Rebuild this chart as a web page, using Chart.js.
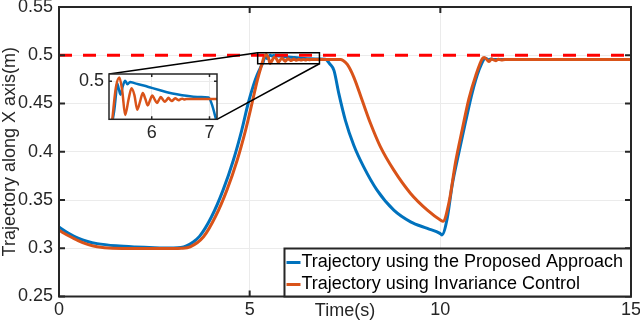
<!DOCTYPE html>
<html>
<head>
<meta charset="utf-8">
<script src="https://cdn.jsdelivr.net/npm/chart.js@4/dist/chart.umd.min.js"></script>
<style>
  html, body { margin: 0; padding: 0; background: #fff; }
  #wrap { position: relative; width: 640px; height: 323px; }
  #main { position: absolute; left: 0; top: 0; }
  #inset { position: absolute; left: 72px; top: 64px; }
</style>
</head>
<body>
<div id="wrap">
  <canvas id="main" width="640" height="323"></canvas>
  <canvas id="inset" width="155" height="86"></canvas>
</div>
<script>
// values (time in s, position in m)
const timeProposed = [0, 0.25, 0.5, 0.75, 1, 1.5, 2, 2.5, 3, 3.2, 3.34, 3.5, 3.69, 4, 4.3, 4.57, 4.79, 4.96, 5.1, 5.2, 5.3, 5.35, 5.38, 5.4, 5.43, 5.46, 5.5, 5.54, 5.58, 5.625, 5.7, 5.86, 6.0, 6.145, 6.3, 6.435, 6.6, 6.72, 6.85, 6.985, 7.04, 7.1, 7.21, 7.34, 7.51, 7.73, 7.99, 8.34, 8.78, 9.22, 9.66, 9.99, 10.04, 10.18, 10.31, 10.49, 10.66, 10.84, 11.01, 11.19, 11.26, 11.33, 11.4, 11.6, 15];
const valProposed = [0.322, 0.3155, 0.3105, 0.307, 0.3048, 0.3025, 0.3013, 0.3006, 0.3003, 0.3008, 0.3025, 0.306, 0.3125, 0.3326, 0.36, 0.391, 0.422, 0.45, 0.469, 0.48, 0.4885, 0.4925, 0.4965, 0.4995, 0.498, 0.4966, 0.4988, 0.5001, 0.4992, 0.4998, 0.4995, 0.4989, 0.4983, 0.4977, 0.4971, 0.4967, 0.4963, 0.4961, 0.496, 0.4959, 0.4942, 0.4911, 0.4843, 0.46, 0.4326, 0.4067, 0.3843, 0.3602, 0.3395, 0.3274, 0.3205, 0.3154, 0.3138, 0.3309, 0.3653, 0.3998, 0.4308, 0.4619, 0.4843, 0.497, 0.4952, 0.4962, 0.4957, 0.4957, 0.4957];

const timeInvariance = [0, 0.25, 0.5, 0.75, 1, 1.4, 2, 3, 3.2, 3.44, 3.79, 4.1, 4.4, 4.67, 4.89, 5.06, 5.2, 5.32, 5.38, 5.44, 5.49, 5.54, 5.6, 5.65, 5.7, 5.75, 5.8, 5.845, 5.89, 5.93, 5.97, 6.01, 6.05, 6.09, 6.125, 6.157, 6.19, 6.227, 6.26, 6.29, 6.32, 6.35, 6.38, 6.41, 6.44, 6.47, 6.5, 6.53, 6.56, 6.6, 7.0, 7.38, 7.45, 7.56, 7.73, 7.95, 8.17, 8.43, 8.78, 9.22, 9.66, 10.01, 10.07, 10.23, 10.4, 10.58, 10.75, 10.93, 11.1, 11.15, 11.22, 11.28, 11.34, 11.4, 11.46, 11.52, 11.6, 11.7, 15];
const valInvariance = [0.3185, 0.313, 0.308, 0.304, 0.3015, 0.3, 0.2998, 0.2998, 0.3, 0.3015, 0.3119, 0.3326, 0.36, 0.391, 0.422, 0.45, 0.474, 0.4908, 0.4985, 0.5009, 0.4975, 0.4915, 0.4955, 0.4982, 0.4965, 0.4928, 0.495, 0.497, 0.4955, 0.4939, 0.4952, 0.4964, 0.4954, 0.4945, 0.4953, 0.496, 0.4954, 0.4948, 0.4953, 0.4958, 0.4953, 0.495, 0.4954, 0.4957, 0.4954, 0.4952, 0.4955, 0.4956, 0.4954, 0.4955, 0.4955, 0.4955, 0.4945, 0.4905, 0.4774, 0.4533, 0.4292, 0.405, 0.3809, 0.3568, 0.3395, 0.3291, 0.328, 0.348, 0.3894, 0.424, 0.455, 0.4791, 0.4964, 0.4976, 0.4955, 0.4935, 0.4962, 0.4952, 0.4944, 0.4958, 0.495, 0.4956, 0.4955];

const refTime = [0, 15];
const refValue = [0.5, 0.5];

const xTicks = [0, 5, 10, 15];
const xTickLabels = ['0', '5', '10', '15'];
const yTicks = [0.25, 0.3, 0.35, 0.4, 0.45, 0.5, 0.55];
const yTickLabels = ['0.25', '0.3', '0.35', '0.4', '0.45', '0.5', '0.55'];

// zoomed region
const zoomTime = [5.21, 6.83];
const zoomValue = [0.4912, 0.5026];
const insetTime = [5.26, 7.13];
const insetValue = [0.4904, 0.5018];
const insetXTicks = [6, 7];
const insetXTickLabels = ['6', '7'];
const insetYTicks = [0.5];
const insetYTickLabels = ['0.5'];

const labelProposed = 'Trajectory using the Proposed Approach';
const labelInvariance = 'Trajectory using Invariance Control';

const FONT = "'Liberation Sans', Arial, Helvetica, sans-serif";
const FSIZE = 18;
const INK = '#262626';
const BLUE = '#0072bd';
const ORANGE = '#d95319';

const pts = (ts, vs) => ts.map((t, i) => ({ x: t, y: vs[i] }));

// matlab style box with inward ticks
const boxAxes = {
  id: 'boxAxes',
  beforeDraw(chart, args, opts) {
    const a = chart.chartArea;
    chart.ctx.save();
    chart.ctx.fillStyle = '#fff';
    chart.ctx.fillRect(a.left, a.top, a.right - a.left, a.bottom - a.top);
    chart.ctx.restore();
  },
  afterDatasetsDraw(chart, args, opts) {
    const { ctx, chartArea: a, scales } = chart;
    ctx.save();
    ctx.strokeStyle = INK;
    ctx.lineWidth = opts.lineWidth;
    ctx.beginPath();
    scales.x.ticks.forEach(t => {
      const px = scales.x.getPixelForValue(t.value);
      ctx.moveTo(px, a.bottom); ctx.lineTo(px, a.bottom - opts.tickLen);
      ctx.moveTo(px, a.top); ctx.lineTo(px, a.top + opts.tickLen);
    });
    scales.y.ticks.forEach(t => {
      const py = scales.y.getPixelForValue(t.value);
      ctx.moveTo(a.left, py); ctx.lineTo(a.left + opts.tickLen, py);
      ctx.moveTo(a.right, py); ctx.lineTo(a.right - opts.tickLen, py);
    });
    ctx.stroke();
    ctx.strokeRect(a.left, a.top, a.right - a.left, a.bottom - a.top);
    ctx.restore();
  }
};

function axisOpts(ticks, labels, extra) {
  return Object.assign({
    type: 'linear',
    afterBuildTicks: s => { s.ticks = ticks.map(v => ({ value: v })); },
    grid: { color: '#ebebeb', lineWidth: 1, drawTicks: false },
    border: { display: false },
    ticks: {
      color: INK, font: { family: FONT, size: FSIZE }, maxRotation: 0, autoSkip: false,
      callback: (v, i) => labels[i]
    }
  }, extra);
}

// inset first so the main chart can hook its connectors onto it
const insetCanvas = document.getElementById('inset');
const insetChart = new Chart(insetCanvas, {
  type: 'line',
  data: {
    datasets: [
      { data: pts(timeInvariance, valInvariance), borderColor: ORANGE, borderWidth: 2.5, pointRadius: 0, cubicInterpolationMode: 'monotone' },
      { data: pts(timeProposed, valProposed), borderColor: BLUE, borderWidth: 2.5, pointRadius: 0, cubicInterpolationMode: 'monotone' }
    ]
  },
  options: {
    responsive: false, animation: false,
    layout: { padding: { top: 10, right: 10, left: 0, bottom: 0 } },
    plugins: { legend: { display: false }, tooltip: { enabled: false }, boxAxes: { lineWidth: 1.5, tickLen: 3 } },
    scales: {
      x: axisOpts(insetXTicks, insetXTickLabels, {
        min: insetTime[0], max: insetTime[1],
        afterFit: s => { s.height = 30.7; s.paddingLeft = 0; s.paddingRight = 0; }
      }),
      y: axisOpts(insetYTicks, insetYTickLabels, {
        min: insetValue[0], max: insetValue[1],
        afterFit: s => { s.width = 37; s.paddingTop = 0; s.paddingBottom = 0; }
      })
    }
  },
  plugins: [boxAxes]
});
insetChart.options.scales.x.ticks.padding = 3;
insetChart.options.scales.y.ticks.padding = 5;
insetChart.update();

// zoom box, connectors and legend on the main chart
const overlays = {
  id: 'overlays',
  afterDraw(chart) {
    const { ctx, chartArea: a, scales } = chart;
    ctx.save();
    ctx.strokeStyle = '#000';
    ctx.lineWidth = 1.5;
    const x0 = scales.x.getPixelForValue(zoomTime[0]);
    const x1 = scales.x.getPixelForValue(zoomTime[1]);
    const y0 = scales.y.getPixelForValue(zoomValue[1]);
    const y1 = scales.y.getPixelForValue(zoomValue[0]);
    ctx.strokeRect(x0, y0, x1 - x0, y1 - y0);
    const ia = insetChart.chartArea;
    const ox = insetCanvas.offsetLeft, oy = insetCanvas.offsetTop;
    ctx.beginPath();
    ctx.moveTo(x0, y0); ctx.lineTo(ox + ia.left, oy + ia.top);
    ctx.moveTo(x1, y1); ctx.lineTo(ox + ia.right, oy + ia.bottom);
    ctx.stroke();

    // legend in the lower right corner
    ctx.font = FSIZE + 'px ' + FONT;
    const rows = [[labelProposed, BLUE], [labelInvariance, ORANGE]];
    const textW = Math.max(...rows.map(r => ctx.measureText(r[0]).width));
    const w = 2 + 14 + 1 + textW + 8, h = 48;
    const lx = a.right - w, ly = a.bottom - h;
    ctx.fillStyle = '#fff';
    ctx.fillRect(lx, ly, w, h);
    ctx.strokeStyle = INK;
    ctx.lineWidth = 2;
    ctx.strokeRect(lx, ly, w, h);
    ctx.textBaseline = 'middle';
    rows.forEach((r, i) => {
      const cy = ly + 14 + i * 22;
      ctx.strokeStyle = r[1];
      ctx.lineWidth = 3;
      ctx.beginPath();
      ctx.moveTo(lx + 2, cy); ctx.lineTo(lx + 16, cy);
      ctx.stroke();
      ctx.fillStyle = '#000';
      ctx.fillText(r[0], lx + 17, cy);
    });
    ctx.restore();
  }
};

const mainChart = new Chart(document.getElementById('main'), {
  type: 'line',
  data: {
    datasets: [
      { label: 'Reference', data: pts(refTime, refValue), borderColor: '#ff0000', borderWidth: 3, borderDash: [13, 11], pointRadius: 0 },
      { label: labelInvariance, data: pts(timeInvariance, valInvariance), borderColor: ORANGE, borderWidth: 3, pointRadius: 0, cubicInterpolationMode: 'monotone' },
      { label: labelProposed, data: pts(timeProposed, valProposed), borderColor: BLUE, borderWidth: 3, pointRadius: 0, cubicInterpolationMode: 'monotone' }
    ]
  },
  options: {
    responsive: false, animation: false,
    layout: { padding: { top: 7, right: 9, left: 0, bottom: 0 } },
    plugins: { legend: { display: false }, tooltip: { enabled: false }, boxAxes: { lineWidth: 2, tickLen: 6 } },
    scales: {
      x: axisOpts(xTicks, xTickLabels, {
        min: 0, max: 15,
        afterFit: s => { s.height = 26.5; s.paddingLeft = 0; s.paddingRight = 0; },
        title: { display: true, text: 'Time(s)', color: INK, font: { family: FONT, size: FSIZE }, padding: { top: 1, bottom: 1 } }
      }),
      y: axisOpts(yTicks, yTickLabels, {
        min: 0.25, max: 0.55,
        afterFit: s => { s.width = 59; s.paddingTop = 0; s.paddingBottom = 0; },
        title: { display: true, text: 'Trajectory along X axis(m)', color: INK, font: { family: FONT, size: FSIZE }, padding: { top: -1, bottom: 0 } }
      })
    }
  },
  plugins: [boxAxes, overlays]
});
mainChart.options.scales.x.ticks.padding = 3;
mainChart.options.scales.y.ticks.padding = 6;
mainChart.update();
</script>
</body>
</html>
